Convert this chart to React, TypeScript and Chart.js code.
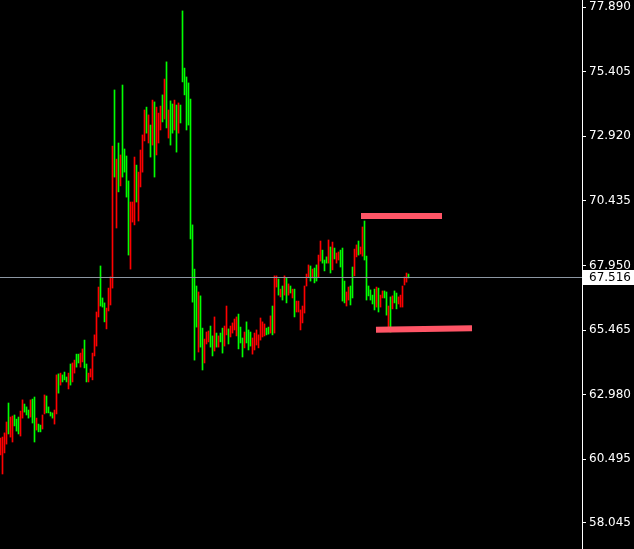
import { useEffect, useRef } from "react";
import { Chart, registerables } from "chart.js";

Chart.register(...registerables);

// Bar highs / lows (price) and direction, one entry per bar, left to right
const highs = [
  61.31, 61.35, 61.51, 61.93, 62.66, 62.12, 62.16, 62.2, 62.04, 62.12,
  62.35, 62.78, 62.62, 62.51, 62.39, 62.78, 62.81, 62.89, 62.08, 61.85,
  61.81, 62.2, 62.97, 62.93, 62.51, 62.31, 62.28, 62.39, 63.74, 63.78,
  63.81, 63.74, 63.85, 63.66, 63.81, 64.16, 64.2, 64.31, 64.54, 64.54,
  64.58, 64.74, 65.08, 64.16, 63.81, 63.97, 64.58, 65.28, 66.16, 67.12,
  67.93, 66.7, 66.51, 66.31, 67.08, 67.51, 72.54, 74.7, 72.04, 72.66,
  72.2, 74.89, 72.43, 72.16, 71.2, 70.39, 70.39, 72.12, 71.81, 71.54,
  72.39, 72.97, 73.93, 74.04, 73.74, 73.35, 74.31, 74.24, 74.04, 73.81,
  74.08, 74.51, 75.12, 75.78, 73.93, 74.28, 74.16, 74.31, 74.12, 74.2,
  74.12, 77.74, 75.54, 75.2, 74.97, 74.35, 69.51, 67.81, 67.16, 66.93,
  66.78, 65.54, 65.12, 65.39, 65.43, 65.62, 65.24, 65.97, 65.35, 65.24,
  65.35, 65.54, 65.62, 66.39, 65.51, 65.62, 65.74, 65.89, 65.97, 66.08,
  65.58, 65.16, 65.39, 65.78, 65.47, 65.39, 65.16, 65.35, 65.47, 65.28,
  65.93, 65.78, 65.7, 65.54, 65.58, 66.01, 66.39, 67.55, 67.55, 67.43,
  67.04, 67.16, 67.55, 67.47, 67.24, 67.16, 67.04, 67.04, 66.58, 66.58,
  66.24, 66.39, 67.16, 67.62, 67.97, 67.93, 67.81, 67.85, 67.97, 68.35,
  68.89, 68.54, 68.16, 68.28, 68.93, 68.66, 68.85, 68.62, 68.43, 68.47,
  68.54, 68.62, 67.35, 66.93, 67.12, 67.16, 67.89, 68.58, 68.74, 68.89,
  68.66, 69.43, 69.66, 68.31, 67.16, 67.01, 66.81, 67.04, 67.12, 67.08,
  66.81, 66.97, 66.97, 66.93, 66.39, 66.74, 66.78, 66.97, 66.89, 66.74,
  66.81, 67.16, 67.51, 67.66, 67.62,
];

const lows = [
  60.66, 59.93, 60.74, 61.08, 61.47, 61.35, 61.16, 61.78, 61.58, 61.47,
  61.39, 62.08, 62.31, 62.2, 62.08, 62.12, 61.89, 61.16, 61.62, 61.55,
  61.55, 61.66, 62.24, 62.28, 62.28, 62.16, 62.08, 61.85, 62.24, 63.04,
  63.35, 63.47, 63.55, 63.47, 63.2, 63.35, 63.47, 63.81, 64.04, 64.2,
  64.04, 64.24, 64.01, 63.47, 63.47, 63.66, 63.55, 64.47, 64.85, 65.97,
  66.39, 66.35, 65.78, 65.51, 66.2, 66.43, 67.08, 71.35, 69.39, 70.78,
  71.01, 71.35, 71.54, 70.58, 68.35, 67.81, 69.62, 69.51, 70.39, 69.66,
  70.97, 71.54, 72.74, 73.04, 72.66, 72.12, 72.58, 71.35, 72.2, 72.66,
  73.16, 73.47, 73.58, 73.24, 72.85, 72.58, 73.04, 73.16, 72.31, 73.04,
  73.43, 75.01, 74.51, 73.16, 73.35, 68.97, 66.54, 64.31, 65.58, 64.62,
  64.81, 63.93, 64.2, 64.93, 65.01, 64.81, 64.47, 64.66, 64.81, 64.81,
  65.01, 64.58, 64.85, 65.28, 64.93, 65.2, 65.35, 65.47, 65.24, 64.74,
  64.97, 64.43, 64.78, 64.97, 64.7, 64.85, 64.54, 64.7, 64.89, 64.78,
  65.08, 65.2, 65.24, 65.28, 65.31, 65.35, 65.28, 65.35, 67.12, 66.81,
  66.74, 66.62, 66.81, 66.51, 66.81, 66.89, 66.7, 65.97, 66.16, 66.16,
  65.47, 65.74, 66.12, 67.16, 67.51, 67.35, 67.47, 67.28, 67.35, 67.51,
  68.12, 68.04, 67.74, 68.04, 68.04, 67.66, 67.78, 68.2, 68.04, 68.16,
  67.89, 66.58, 66.51, 66.39, 66.62, 66.43, 66.7, 67.55, 68.28, 68.35,
  68.39, 68.31, 68.16, 66.62, 66.78, 66.62, 66.47, 66.24, 66.35, 66.16,
  66.35, 66.7, 66.7, 66.04, 65.58, 65.39, 66.28, 66.51, 66.28, 66.47,
  66.35, 66.35, 67.2, 67.31, 67.47,
];

const sides = (
  "RRRRGRRGGG" + "RRGGGRGGRG" + "GRRGGGGRRG" + "RGGGRGRRGG" + "RRGGRRRRRR" +
  "GGGRRRRGRG" + "RGGGGRRRGR" + "RRRGRGRGRR" + "RGRGRGGRGR" + "GGGGGGGGGR" +
  "GGRRRGGRGR" + "GGRRGRRRRG" + "GGRGGGRRRR" + "RRRGGRGRRG" + "RGRGRGRGRR" +
  "RRRRRGRGGR" + "RGGGRGRGRR" + "GGGRRGGRRG" + "RRGGGGGGRG" + "RRGGRGRGGR" +
  "RRRRG"
).split("");

// Right price scale tick labels
const priceTicks = [58.045, 60.495, 62.98, 65.465, 67.95, 70.435, 72.92, 75.405, 77.89];
const lastPrice = 67.516;

// Drawn level lines (bar index / price)
const levelStartX = [180.25, 187.75];
const levelEndX = [220.75, 235.75];
const levelStartY = [69.85, 65.48];
const levelEndY = [69.85, 65.54];

const UP = "#00ff00";
const DOWN = "#ff0000";
const FONT = "'DejaVu Sans', Verdana, sans-serif";

export default function App() {
  const ref = useRef<HTMLCanvasElement | null>(null);

  useEffect(() => {
    if (!ref.current) return;
    const data = highs.map((h, i) => ({ x: i, y: [lows[i], h] }));

    const overlay = {
      id: "overlay",
      afterDatasetsDraw(chart: any) {
        const { ctx, chartArea, scales } = chart;
        const xs = scales.x;
        const ys = scales.y;
        ctx.save();
        // current price line
        const py = Math.round(ys.getPixelForValue(lastPrice)) + 0.5;
        ctx.strokeStyle = "#8c97a3";
        ctx.lineWidth = 1;
        ctx.beginPath();
        ctx.moveTo(chartArea.left, py);
        ctx.lineTo(chartArea.right, py);
        ctx.stroke();
        // level lines
        ctx.strokeStyle = "#ff5566";
        ctx.lineWidth = 6;
        ctx.lineCap = "butt";
        for (let k = 0; k < levelStartX.length; k++) {
          ctx.beginPath();
          ctx.moveTo(xs.getPixelForValue(levelStartX[k]), ys.getPixelForValue(levelStartY[k]));
          ctx.lineTo(xs.getPixelForValue(levelEndX[k]), ys.getPixelForValue(levelEndY[k]));
          ctx.stroke();
        }
        ctx.restore();
      },
      afterDraw(chart: any) {
        const { ctx, chartArea, scales } = chart;
        const ys = scales.y;
        const y = ys.getPixelForValue(lastPrice);
        ctx.save();
        ctx.fillStyle = "#ffffff";
        ctx.fillRect(chartArea.right + 1, Math.round(y) - 7, chart.width - chartArea.right, 15);
        ctx.fillStyle = "#000000";
        ctx.font = `12px ${FONT}`;
        ctx.textBaseline = "middle";
        ctx.textAlign = "left";
        ctx.fillText(lastPrice.toFixed(3), chartArea.right + 7, Math.round(y) + 1);
        ctx.restore();
      },
    };

    const chart = new Chart(ref.current, {
      type: "bar",
      data: {
        datasets: [
          {
            data: data as any,
            backgroundColor: sides.map((s) => (s === "G" ? UP : DOWN)),
            borderWidth: 0,
            barThickness: 1,
            clip: false as any,
          },
        ],
      },
      options: {
        animation: false,
        responsive: true,
        maintainAspectRatio: false,
        layout: { padding: 0 },
        plugins: { legend: { display: false }, tooltip: { enabled: false } },
        scales: {
          x: {
            type: "linear",
            display: false,
            min: -0.25,
            max: 290.75,
            offset: false,
          },
          y: {
            position: "right",
            min: 57.045,
            max: 78.16,
            afterBuildTicks: (scale: any) => {
              scale.ticks = priceTicks.map((v) => ({ value: v }));
            },
            afterFit: (scale: any) => {
              scale.width = 52;
              scale.paddingTop = 0;
              scale.paddingBottom = 0;
              scale.paddingLeft = 0;
              scale.paddingRight = 0;
            },
            grid: {
              display: true,
              drawOnChartArea: false,
              drawTicks: true,
              tickLength: 4,
              color: "#ffffff",
            },
            border: { display: true, color: "#ffffff", width: 1 },
            ticks: {
              autoSkip: false,
              padding: 3,
              color: "#ffffff",
              font: { family: FONT, size: 12 },
              callback: (v: any) => Number(v).toFixed(3),
            },
          },
        },
      },
      plugins: [overlay],
    });
    return () => chart.destroy();
  }, []);

  return (
    <div
      style={{
        position: "fixed",
        left: 0,
        top: 0,
        width: 634,
        height: 549,
        background: "#000000",
      }}
    >
      <canvas ref={ref} />
    </div>
  );
}
